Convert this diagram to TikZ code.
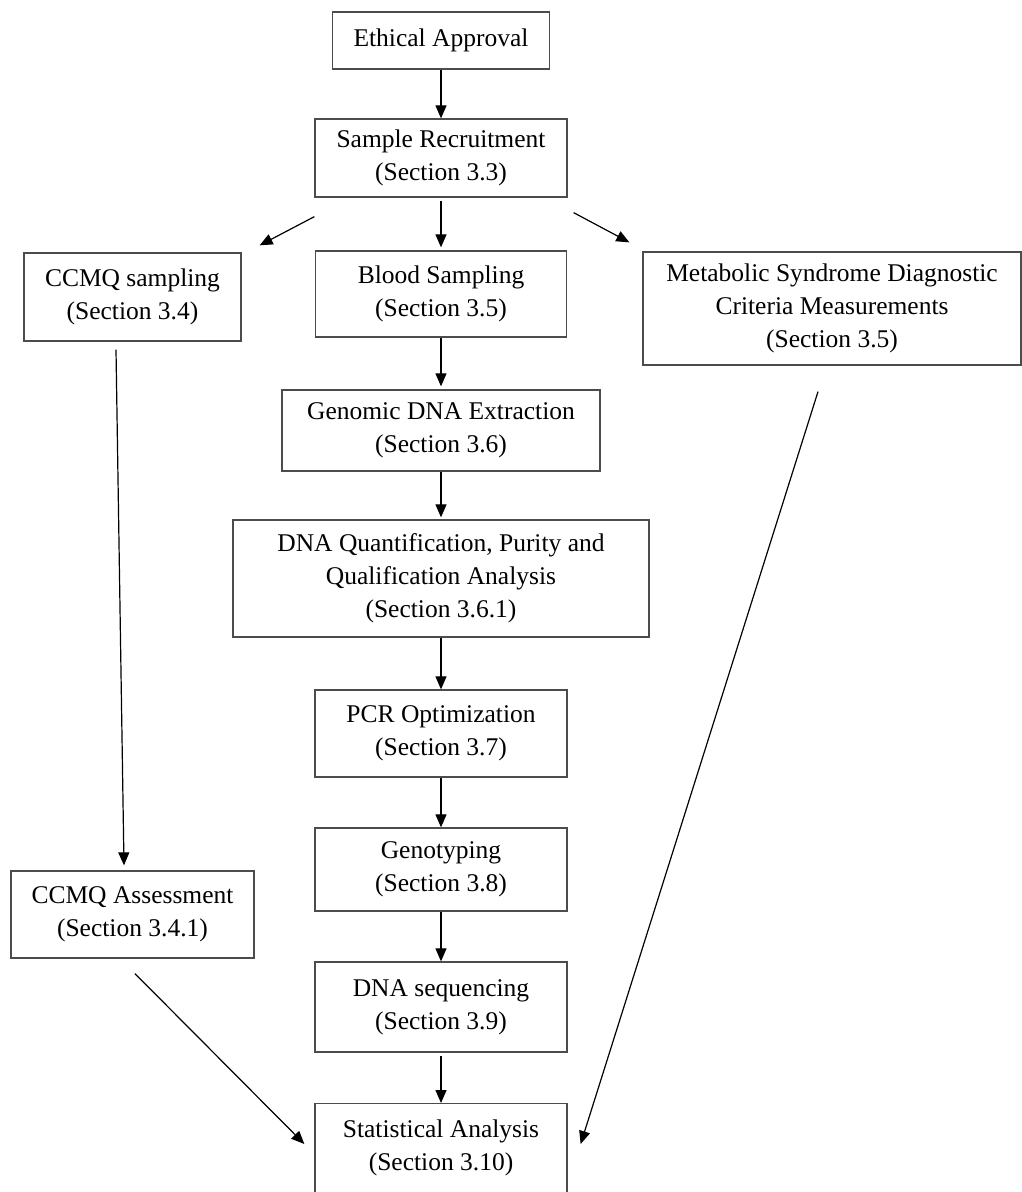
\documentclass[tikz,border=0pt]{standalone}
\usepackage{fontspec}
\setmainfont{Liberation Serif}
\usepackage{tikz}
\usetikzlibrary{arrows.meta}

\begin{document}
\begin{tikzpicture}[x=1pt,y=-1pt,
    box/.style={draw=black!70,line width=1.3pt,align=center,
      font=\fontsize{25.5}{33}\selectfont},
    arr/.style={line width=1.2pt,-{Triangle[length=13pt,width=11pt]}}]
  \useasboundingbox (0,0) rectangle (1022,1192);

  % Middle column
  \node[box,minimum width=217pt,minimum height=57pt] (ethic) at (441,40.5) {Ethical Approval};
  \node[box,minimum width=252pt,minimum height=78pt] (sample) at (441,158) {Sample Recruitment\\(Section 3.3)};
  \node[box,minimum width=251pt,minimum height=86pt] (blood) at (441,294) {Blood Sampling\\(Section 3.5)};
  \node[box,minimum width=318pt,minimum height=81pt] (genomic) at (441,430.5) {Genomic DNA Extraction\\(Section 3.6)};
  \node[box,minimum width=416pt,minimum height=117pt] (quant) at (441,578.5) {DNA Quantification, Purity and\\Qualification Analysis\\(Section 3.6.1)};
  \node[box,minimum width=252pt,minimum height=87pt] (pcr) at (441,733.5) {PCR Optimization\\(Section 3.7)};
  \node[box,minimum width=252pt,minimum height=83pt] (geno) at (441,869.5) {Genotyping\\(Section 3.8)};
  \node[box,minimum width=252pt,minimum height=90pt] (dnaseq) at (441,1007) {DNA sequencing\\(Section 3.9)};
  \node[box,minimum width=252pt,inner ysep=16pt,text depth=50pt,anchor=north] (stats) at (441,1103) {Statistical Analysis\\(Section 3.10)};

  % Side columns
  \node[box,minimum width=217pt,minimum height=88pt] (ccmqs) at (132.5,297) {CCMQ sampling\\(Section 3.4)};
  \node[box,minimum width=243pt,minimum height=87pt] (ccmqa) at (132.5,914.5) {CCMQ Assessment\\(Section 3.4.1)};
  \node[box,minimum width=378pt,minimum height=113pt] (metab) at (832,308.5) {Metabolic Syndrome Diagnostic\\Criteria Measurements\\(Section 3.5)};

  % Free ends of the slanted arrows
  \coordinate (sampleL) at ([yshift=-19pt]sample.south west);
  \coordinate (ccmqsIn) at ([xshift=18pt,yshift=7pt]ccmqs.north east);
  \coordinate (sampleR) at ([xshift=6pt,yshift=-15pt]sample.south east);
  \coordinate (metabIn) at ([xshift=-13pt,yshift=9pt]metab.north west);
  \coordinate (ccmqsOut) at ([xshift=-16.5pt,yshift=-8pt]ccmqs.south);
  \coordinate (ccmqaIn) at ([xshift=-8.5pt,yshift=5pt]ccmqa.north);
  \coordinate (ccmqaOut) at ([xshift=2.5pt,yshift=-15pt]ccmqa.south);
  \coordinate (statsL) at ([xshift=-10pt,yshift=-41pt]stats.north west);
  \coordinate (metabOut) at ([xshift=-14pt,yshift=-26pt]metab.south);
  \coordinate (statsR) at ([xshift=13pt,yshift=-41pt]stats.north east);

  % Arrows
  \draw[arr] (ethic) -- (sample);
  \draw[arr] (sampleL) -- (ccmqsIn);
  \draw[arr,shorten <=3pt,shorten >=3pt] (sample) -- (blood);
  \draw[arr] (sampleR) -- (metabIn);
  \draw[arr] (ccmqsOut) -- (ccmqaIn);
  \draw[arr,shorten >=3pt] (blood) -- (genomic);
  \draw[arr,shorten >=2pt] (genomic) -- (quant);
  \draw[arr] (quant) -- (pcr);
  \draw[arr] (pcr) -- (geno);
  \draw[arr] (geno) -- (dnaseq);
  \draw[arr,shorten <=3pt] (dnaseq) -- (stats);
  \draw[arr] (ccmqaOut) -- (statsL);
  \draw[arr] (metabOut) -- (statsR);
\end{tikzpicture}
\end{document}
